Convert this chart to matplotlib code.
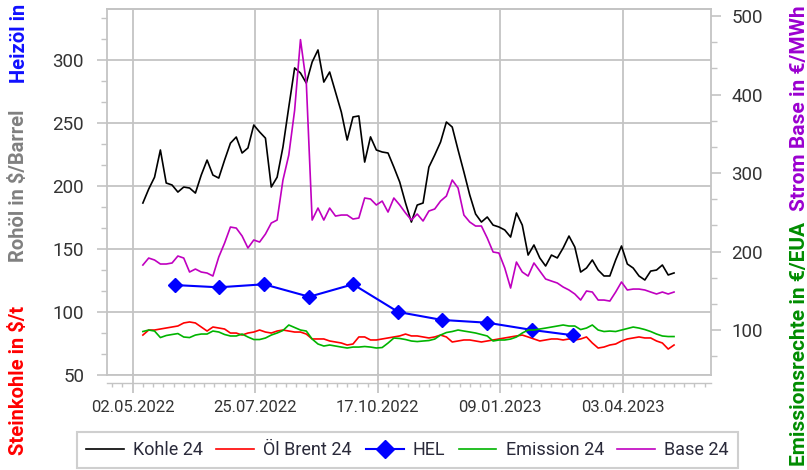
import matplotlib
matplotlib.use("Agg")
import matplotlib.pyplot as plt
import matplotlib.dates as mdates
from matplotlib.ticker import MultipleLocator, AutoMinorLocator, FixedLocator
import pandas as pd

plt.rcParams['font.family'] = ['Roboto', 'DejaVu Sans']

# daily futures, sampled every 4 days from the picture
dates = pd.date_range('2022-05-09', periods=92, freq='4D')

kohle = [186.5, 197.6, 207.0, 228.6, 202.4, 200.8, 195.2, 199.2, 198.4, 194.4,
         208.7, 220.6, 208.7, 206.3, 220.6, 234.0, 238.9, 226.2, 230.2, 248.4,
         242.9, 238.0, 199.2, 207.0, 231.0, 262.7, 293.7, 289.7, 281.7, 298.4,
         308.0, 282.5, 290.5, 274.6, 258.7, 236.5, 254.8, 255.6, 219.0, 239.0,
         228.6, 227.0, 226.2, 215.0, 203.2, 186.5, 171.4, 184.9, 186.5, 215.0,
         224.6, 234.9, 250.8, 246.8, 228.6, 211.1, 192.9, 177.8, 171.4, 175.4,
         169.0, 167.5, 165.1, 159.5, 178.6, 169.0, 145.2, 153.2, 142.9, 136.5,
         145.2, 142.9, 150.8, 160.3, 151.6, 131.7, 134.9, 141.3, 133.3, 128.6,
         128.6, 141.3, 152.4, 138.1, 134.9, 128.6, 125.4, 132.5, 133.3, 137.3,
         129.4, 131.0]

brent = [81.7, 85.7, 85.7, 86.5, 87.3, 88.1, 88.9, 91.3, 92.1, 91.3,
         88.1, 84.9, 88.1, 87.3, 86.5, 83.3, 83.3, 81.7, 83.3, 84.1,
         85.7, 84.1, 83.3, 84.9, 85.7, 84.9, 84.1, 84.1, 82.5, 78.6,
         78.6, 78.6, 77.0, 76.2, 75.4, 73.8, 74.6, 80.2, 80.2, 77.8,
         77.8, 78.6, 79.4, 80.2, 81.0, 82.5, 81.0, 81.0, 80.2, 79.4,
         80.2, 81.7, 80.2, 76.2, 77.0, 77.8, 77.8, 77.0, 76.2, 77.0,
         77.8, 78.6, 79.4, 80.2, 81.0, 81.7, 80.2, 78.6, 77.0, 77.8,
         78.6, 78.6, 77.8, 78.6, 77.8, 78.6, 80.2, 75.4, 71.4, 72.2,
         73.8, 74.6, 77.0, 78.6, 79.4, 80.2, 79.4, 79.4, 77.0, 75.4,
         70.6, 73.8]

emission = [98.1, 100.0, 98.7, 90.4, 93.0, 94.3, 95.5, 91.1, 90.4, 93.6,
            94.9, 94.9, 98.7, 97.5, 94.3, 92.4, 92.4, 94.9, 91.1, 87.9,
            87.9, 89.8, 93.6, 96.2, 99.4, 106.4, 103.2, 100.0, 98.7, 88.5,
            82.2, 79.6, 80.9, 79.6, 78.3, 77.1, 78.3, 78.3, 79.0, 78.3,
            77.1, 77.7, 83.4, 89.8, 89.2, 87.9, 86.0, 85.3, 86.0, 86.6,
            88.5, 93.6, 96.8, 98.1, 100.0, 98.7, 97.5, 96.2, 94.3, 92.4,
            86.0, 87.3, 87.3, 88.5, 91.1, 96.2, 100.0, 100.0, 101.3, 102.5,
            103.8, 105.1, 106.4, 105.1, 105.1, 100.6, 102.5, 106.4, 100.0, 98.1,
            98.7, 98.1, 100.0, 101.9, 103.8, 102.5, 100.6, 98.1, 94.9, 92.4,
            91.7, 91.7]

base = [182.8, 191.7, 189.2, 184.1, 184.1, 185.4, 194.3, 191.7, 173.9, 177.7,
        173.9, 172.6, 168.8, 193.0, 210.8, 231.2, 229.9, 219.8, 204.5, 214.7,
        212.1, 222.3, 236.3, 240.1, 291.1, 323.0, 380.0, 470.0, 415.0, 240.1,
        255.4, 240.1, 255.4, 245.2, 246.5, 246.5, 241.4, 242.7, 268.2, 266.9,
        259.3, 264.3, 250.3, 268.2, 259.3, 249.1, 240.1, 247.8, 238.9, 251.6,
        254.2, 264.3, 270.7, 291.1, 280.9, 246.5, 237.6, 232.5, 232.5, 217.2,
        199.4, 198.1, 179.0, 153.5, 186.6, 173.9, 168.8, 185.4, 175.2, 165.0,
        162.4, 159.9, 154.8, 151.0, 145.9, 138.2, 149.7, 148.4, 138.2, 138.2,
        136.9, 148.4, 161.2, 151.0, 152.2, 152.2, 151.0, 148.4, 145.9, 148.4,
        145.9, 148.4]

# monthly heating oil
hel_dates = pd.to_datetime(['2022-05-31', '2022-06-30', '2022-07-31', '2022-08-31',
                            '2022-09-30', '2022-10-31', '2022-11-30', '2022-12-31',
                            '2023-01-31', '2023-02-28'])
hel = [121.4, 119.6, 122.0, 112.1, 122.0, 100.0, 93.7, 91.5, 85.7, 81.5]

tick_dates = pd.to_datetime(['2022-05-02', '2022-07-25', '2022-10-17',
                             '2023-01-09', '2023-04-03'])
tick_labels = ['02.05.2022', '25.07.2022', '17.10.2022', '09.01.2023', '03.04.2023']

W, H = 807, 470
grid_c = '#c4c4c4'
txt_c = '#333333'

fig = plt.figure(figsize=(W / 100, H / 100), dpi=100)
ax = fig.add_axes([107 / W, 1 - 375 / H, (711 - 107) / W, (375 - 9) / H])
ax2 = ax.twinx()

ax.plot(dates, kohle, color='black', lw=1.2, label='Kohle 24')
ax.plot(dates, brent, color='#ff0000', lw=1.2, label='Öl Brent 24')
ax.plot(hel_dates, hel, color='#0000ff', lw=1.5, marker='D', ms=6.8,
        label='HEL')
ax2.plot(dates, emission, color='#00b400', lw=1.2, label='Emission 24')
ax2.plot(dates, base, color='#c000c0', lw=1.2, label='Base 24')

ylim1 = (50, 340.5)
ylim2 = (42.7, 509)
ax.set_ylim(*ylim1)
ax2.set_ylim(*ylim2)
ax.set_xlim(pd.Timestamp('2022-04-14 10:00'), pd.Timestamp('2023-06-02 08:00'))

ax.yaxis.set_major_locator(MultipleLocator(50))
ax.yaxis.set_minor_locator(AutoMinorLocator(3))
ax2.yaxis.set_major_locator(MultipleLocator(100))
ax2.yaxis.set_minor_locator(AutoMinorLocator(3))

ax.xaxis.set_major_locator(FixedLocator(mdates.date2num(tick_dates)))
ax.set_xticklabels(tick_labels)
ax.xaxis.set_minor_locator(mdates.WeekdayLocator(byweekday=mdates.MO))

ax.grid(True, which='major', color=grid_c, lw=1.3)
ax.set_axisbelow(True)
ax.axhline(ylim1[0], color=grid_c, lw=1.3, clip_on=False, zorder=0.5)

for a in (ax, ax2):
    for s in a.spines.values():
        s.set_color(grid_c)
        s.set_linewidth(1.3)
ax.spines['right'].set_visible(False)
ax2.spines['left'].set_visible(False)
ax2.spines['bottom'].set_visible(False)
ax.spines['bottom'].set_position(('outward', 5.5))
ax.spines['bottom'].set_linewidth(1.0)

ax.tick_params(axis='y', which='major', length=7.5, width=1.2, color=grid_c,
               labelsize=13.5, labelcolor=txt_c, pad=9)
ax.tick_params(axis='y', which='minor', length=4.5, width=1.0, color=grid_c)
ax2.tick_params(axis='y', which='major', length=7.5, width=1.2, color=grid_c,
                labelsize=13.5, labelcolor=txt_c, pad=7)
ax2.tick_params(axis='y', which='minor', length=4.5, width=1.0, color=grid_c)
ax.tick_params(axis='x', which='major', direction='inout', length=15, width=1.3,
               color=grid_c, labelsize=12, labelcolor=txt_c, pad=5)
ax.tick_params(axis='x', which='minor', direction='out', length=3, width=1.0,
               color=grid_c)

# axis titles at the figure edges, written bottom to top
lab = dict(rotation=90, fontweight='bold', fontsize=14.5, ha='left',
           va='center', rotation_mode='anchor')
fig.text(19 / W, 1 - 455 / H, 'Steinkohle in $/t', color='#ff0000', **lab)
fig.text(19 / W, 1 - 262 / H, 'Rohöl in $/Barrel', color='#808080', **lab)
fig.text(19 / W, 1 - 83 / H, 'Heizöl in €/100l', color='#1010ff', **lab)
lab['fontsize'] = 15
fig.text(799 / W, 1 - 466 / H, 'Emissionsrechte in €/EUA', color='#008c00', **lab)
fig.text(799 / W, 1 - 211 / H, 'Strom Base in €/MWh', color='#9b00d0', **lab)

h1, l1 = ax.get_legend_handles_labels()
h2, l2 = ax2.get_legend_handles_labels()
leg = fig.legend(h1 + h2, l1 + l2, loc='upper center', ncol=5,
                 bbox_to_anchor=(407.5 / W, 1 - 432 / H), fontsize=13,
                 frameon=True, fancybox=False, edgecolor=grid_c,
                 handlelength=2.1, handletextpad=0.5, columnspacing=0.75,
                 borderpad=0.5, borderaxespad=0, markerscale=1.35)
leg.get_frame().set_linewidth(1.5)
for t in leg.get_texts():
    t.set_color('#2a2a3a')

fig.savefig('out.png', dpi=100)
